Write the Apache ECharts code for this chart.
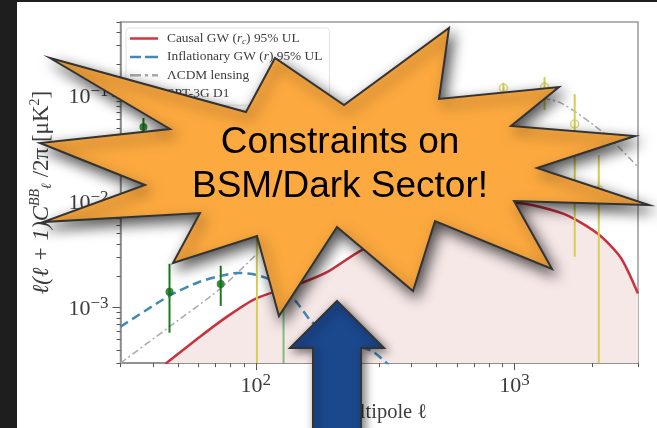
<!DOCTYPE html>
<html><head><meta charset="utf-8">
<style>
html,body{margin:0;padding:0;background:#1e1e1e;width:657px;height:428px;overflow:hidden}
#paper{position:absolute;left:17px;top:2px;right:0;bottom:0;background:#fff}
#chart{position:absolute;left:0;top:0;width:657px;height:428px}
</style>
<script src="https://cdn.jsdelivr.net/npm/echarts@6/dist/echarts.min.js"></script>
</head><body><div id="paper"></div><div id="chart"></div>
<script>
const xMajorTicks=[100,1000];
const xMinorTicks=[30,40,50,60,70,80,90,200,300,400,500,600,700,800,900,2000,3000];
const yMajorTicks=[0.001,0.01,0.1];
const yMinorTicks=[3e-4,4e-4,5e-4,6e-4,7e-4,8e-4,9e-4,2e-3,3e-3,4e-3,5e-3,6e-3,7e-3,8e-3,9e-3,2e-2,3e-2,4e-2,5e-2,6e-2,7e-2,8e-2,9e-2,0.2,0.3,0.4,0.5];
const causal=[[44.8,2.96e-4],[60.7,5.3e-4],[77.2,8.2e-4],[100,1.22e-3],[150.7,1.72e-3],[190,2.19e-3],[257.5,3.52e-3],[432,6.07e-3],[675,8.4e-3],[1000,9.8e-3],[1549,7.7e-3],[2098,5.0e-3],[2574,2.97e-3],[3000,1.36e-3]];
const inflationary=[[30,6.62e-4],[46.4,1.3e-3],[60.7,1.76e-3],[73.2,2.0e-3],[85,2.13e-3],[97,2.08e-3],[113,1.85e-3],[142,1.17e-3],[165,7.3e-4],[205,5.2e-4],[281,3.9e-4],[316,3.1e-4],[346,2.49e-4]];
const lensing=[[30,3e-4],[46.4,6.62e-4],[72.5,1.5e-3],[101,3.23e-3],[148,8.4e-3],[253,2.23e-2],[432,4.77e-2],[738,8.2e-2],[1154,9.8e-2],[1508,8.6e-2],[2213,4.47e-2],[3000,2.14e-2]];
// [ell, value, low, high]
const spt=[[36.8,0.051,0.04,0.062],[46.4,1.415e-3,5.81e-4,2.6e-3],[73.2,1.68e-3,1.04e-3,2.49e-3]];
const sptHighEll=[[128,2.2e-3,1e-4,4e-3]];
const other=[[101,7.5e-3,1e-4,0.0104],[906,0.119,0.082,0.133],[1306,0.1216,0.0738,0.151],[1708,0.0544,3.03e-3,0.104],[2116,0.013,1e-4,0.0277]];
const starPoints=[[50,58],[246,112],[275,58],[344,105],[449,28],[439,99],[559,87],[511,126],[635,136],[537,168],[649,205],[514,201],[552,269],[435,221],[413,291],[337,227],[279,316],[257,236],[173,263],[200,213],[43,222],[145,185],[40,143],[170,129]];
const arrowPoints=[[337,301],[384,348],[361,348],[361,440],[313,440],[313,348],[290,348]];
const calloutLines=['Constraints on','BSM/Dark Sector!'];

const SERIF='"Liberation Serif","DejaVu Serif",serif';
const AX='#888888';
const INK='#3c3c3c';
const tickRich={b:{fontFamily:SERIF,fontSize:22,color:INK,verticalAlign:'bottom',lineHeight:25},
  s:{fontFamily:SERIF,fontSize:17,color:INK,verticalAlign:'top',lineHeight:25,padding:[0,0,6,0]}};
function logLabel(v){return '{b|10}{s|'+String(Math.round(Math.log10(v))).replace('-','\u2212')+'}';}
function errorBars(color,width){return function(params,api){
  const a=api.coord([api.value(0),api.value(2)]),b=api.coord([api.value(0),api.value(3)]);
  return {type:'line',shape:{x1:a[0],y1:a[1],x2:b[0],y2:b[1]},style:{stroke:color,lineWidth:width}};
};}
const legendNames={
 'Causal GW (rc) 95% UL':'Causal GW ({i|r}{u|c}) 95% UL',
 'Inflationary GW (r) 95% UL':'Inflationary GW ({i|r}) 95% UL',
 'ΛCDM lensing':'ΛCDM lensing','SPT-3G D1':'SPT-3G D1'};
const xBase={type:'log',logBase:10,min:30,max:3000,splitLine:{show:false},minorTick:{show:false}};
const yBase={type:'log',logBase:10,min:3e-4,max:0.5,splitLine:{show:false},minorTick:{show:false}};
const chart=echarts.init(document.getElementById('chart'),null,{renderer:'canvas'});
chart.setOption({
 animation:false,
 backgroundColor:'transparent',
 grid:{left:120.5,right:19,top:22,bottom:64.5,show:true,borderColor:'#999',borderWidth:1.5,backgroundColor:'transparent',containLabel:false},
 legend:{left:126,top:28,orient:'vertical',itemWidth:28,itemHeight:2.5,itemGap:3.4,padding:[3,7,4,4],symbolKeepAspect:false,backgroundColor:'#fff',borderColor:'#e2e2e2',borderWidth:1,borderRadius:3,
  data:[
   {name:'Causal GW (rc) 95% UL',icon:'rect'},
   {name:'Inflationary GW (r) 95% UL',icon:'path://M0 0h11v10H0zM15 0h13v10H15z'},
   {name:'ΛCDM lensing',icon:'path://M0 0h11v10H0zM15 0h3v10h-3zM22 0h6v10h-6z'},
   {name:'SPT-3G D1',icon:'rect'}],
  formatter:n=>legendNames[n],
  textStyle:{fontFamily:SERIF,fontSize:13.4,lineHeight:15,color:INK,padding:[0,0,0,4],rich:{i:{fontFamily:SERIF,fontStyle:'italic',fontSize:13.4,color:INK,lineHeight:15},u:{fontFamily:SERIF,fontStyle:'italic',fontSize:9,color:INK,verticalAlign:'bottom',lineHeight:15}}}},
 xAxis:[
  Object.assign({},xBase,{position:'bottom',
   name:'Multipole \u2113',nameLocation:'middle',nameGap:37,nameTextStyle:{fontFamily:SERIF,fontSize:20.5,color:INK},
   axisLine:{show:true,lineStyle:{color:AX,width:1.5}},
   axisTick:{show:true,length:7,lineStyle:{color:'#555',width:1},customValues:xMajorTicks},
   axisLabel:{show:true,margin:9,customValues:xMajorTicks,formatter:logLabel,rich:tickRich}}),
  Object.assign({},xBase,{position:'bottom',axisLine:{show:false},
   axisTick:{show:true,length:4,lineStyle:{color:'#555',width:1},customValues:xMinorTicks},
   axisLabel:{show:false}})
 ],
 yAxis:[
  Object.assign({},yBase,{position:'left',
   name:'{m|\u2113(\u2113 + 1)C}{t|BB}{d|\u2113}{r| /2\u03c0 [\u03bcK}{p|2}{r|]}',nameLocation:'middle',nameRotate:90,nameGap:64,
   nameTextStyle:{rich:{
    m:{fontFamily:SERIF,fontStyle:'italic',fontSize:23,color:INK,lineHeight:30},
    r:{fontFamily:SERIF,fontSize:23,color:INK,lineHeight:30},
    p:{fontFamily:SERIF,fontSize:14,color:INK,verticalAlign:'top',lineHeight:30,padding:[2,0,0,0]},
    t:{fontFamily:SERIF,fontStyle:'italic',fontSize:14,color:INK,verticalAlign:'top',lineHeight:30,padding:[2,0,0,0]},
    d:{fontFamily:SERIF,fontStyle:'italic',fontSize:14,color:INK,verticalAlign:'bottom',lineHeight:30,padding:[0,0,2,0]}}},
   axisLine:{show:true,lineStyle:{color:AX,width:1.5}},
   axisTick:{show:true,length:8,lineStyle:{color:'#555',width:1},customValues:yMajorTicks},
   axisLabel:{show:true,margin:12,customValues:yMajorTicks,formatter:logLabel,rich:tickRich}}),
  Object.assign({},yBase,{position:'left',axisLine:{show:false},
   axisTick:{show:true,length:4,lineStyle:{color:'#555',width:1},customValues:yMinorTicks},
   axisLabel:{show:false}})
 ],
 series:[
  {name:'Causal GW (rc) 95% UL',type:'line',data:causal,smooth:0.25,showSymbol:false,symbol:'none',clip:true,z:3,
   lineStyle:{color:'#c8323c',width:2.5},itemStyle:{color:'#d23441'},areaStyle:{color:'#f7e8e8',opacity:1,origin:'start'}},
  {name:'Inflationary GW (r) 95% UL',type:'line',data:inflationary,smooth:0.25,showSymbol:false,symbol:'none',clip:true,z:4,
   lineStyle:{color:'#4488b4',width:2.5,type:[9,5]},itemStyle:{color:'#4488b4'}},
  {name:'ΛCDM lensing',type:'line',data:lensing,smooth:0.25,showSymbol:false,symbol:'none',clip:true,z:2,
   lineStyle:{color:'#aaaaaa',width:1.5,type:[7,3,2,3]},itemStyle:{color:'#aaaaaa'}},
  {name:'SPT err',type:'custom',data:spt,clip:true,z:5,renderItem:errorBars('#1c7a1c',2),encode:{x:0,y:[2,3]},silent:true},
  {name:'SPT err high',type:'custom',data:sptHighEll,clip:true,z:5,renderItem:errorBars('#80bd80',2),encode:{x:0,y:[2,3]},silent:true},
  {name:'SPT-3G D1',type:'scatter',data:spt.concat(sptHighEll).map(p=>[p[0],p[1]]),symbol:'circle',symbolSize:8,clip:true,z:6,itemStyle:{color:'#0f6b1a'}},
  {name:'Other err',type:'custom',data:other,clip:true,z:5,renderItem:errorBars('#d3cf55',2),encode:{x:0,y:[2,3]},silent:true},
  {name:'Other',type:'scatter',data:other.map(p=>[p[0],p[1]]),symbol:'circle',symbolSize:8,clip:true,z:6,itemStyle:{color:'transparent',borderColor:'#d3cf55',borderWidth:1.5}}
 ],
 graphic:{elements:[
  {type:'polygon',z:100,shape:{points:starPoints},style:{fill:'#fca93f',stroke:'#333',lineWidth:2,lineJoin:'miter',miterLimit:20,shadowBlur:14,shadowOffsetX:4,shadowOffsetY:6,shadowColor:'rgba(0,0,0,0.7)'}},
  {type:'polygon',z:100,shape:{points:arrowPoints},style:{fill:'#1b478c',stroke:'#333',lineWidth:2,lineJoin:'miter',shadowBlur:10,shadowOffsetX:3,shadowOffsetY:3,shadowColor:'rgba(0,0,0,0.55)'}},
  {type:'text',z:101,x:340,y:143,style:{text:calloutLines[0],fontFamily:'"Liberation Sans",Arial,sans-serif',fontSize:37,fill:'#000',align:'center',verticalAlign:'middle'}},
  {type:'text',z:101,x:340,y:187,style:{text:calloutLines[1],fontFamily:'"Liberation Sans",Arial,sans-serif',fontSize:37,fill:'#000',align:'center',verticalAlign:'middle'}}
 ]}
});
</script></body></html>
